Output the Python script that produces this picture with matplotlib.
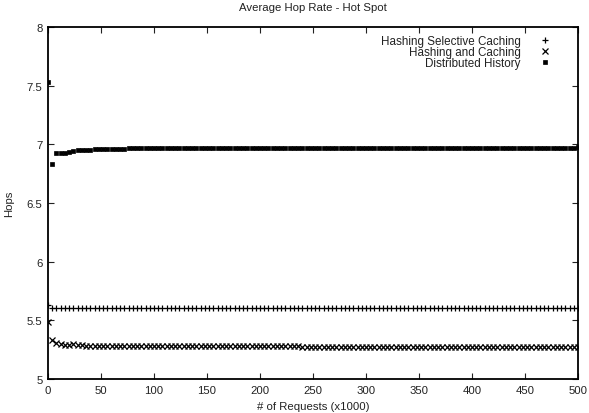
import numpy as np
import matplotlib
matplotlib.use("Agg")
import matplotlib.pyplot as plt

plt.rcParams['font.family'] = ['Liberation Sans', 'DejaVu Sans']

# x values: thousands of requests, one sample every 4000
requests = np.arange(0, 501, 4)

# Hashing Selective Caching (+)
hsc = [5.63, 5.607, 5.607, 5.607, 5.607, 5.607, 5.607, 5.607, 5.607, 5.607,
       5.607, 5.607, 5.607, 5.607, 5.607, 5.607, 5.607, 5.607, 5.607, 5.607,
       5.607, 5.607, 5.607, 5.607, 5.607, 5.607, 5.607, 5.607, 5.607, 5.607,
       5.607, 5.607, 5.607, 5.607, 5.607, 5.607, 5.607, 5.607, 5.607, 5.607,
       5.607, 5.607, 5.607, 5.607, 5.607, 5.607, 5.607, 5.607, 5.607, 5.607,
       5.606, 5.606, 5.606, 5.606, 5.606, 5.606, 5.606, 5.606, 5.606, 5.606,
       5.606, 5.606, 5.606, 5.606, 5.606, 5.606, 5.606, 5.606, 5.606, 5.606,
       5.606, 5.606, 5.606, 5.606, 5.606, 5.606, 5.606, 5.606, 5.606, 5.606,
       5.606, 5.606, 5.606, 5.606, 5.606, 5.606, 5.606, 5.606, 5.606, 5.606,
       5.606, 5.606, 5.606, 5.606, 5.606, 5.606, 5.606, 5.606, 5.606, 5.606,
       5.606, 5.606, 5.606, 5.606, 5.606, 5.606, 5.606, 5.606, 5.606, 5.606,
       5.606, 5.606, 5.606, 5.606, 5.606, 5.606, 5.606, 5.606, 5.606, 5.606,
       5.606, 5.606, 5.606, 5.606, 5.606, 5.606]

# Hashing and Caching (x)
hc = [5.49, 5.335, 5.31, 5.30, 5.29, 5.29, 5.295, 5.29, 5.29, 5.285,
      5.285, 5.285, 5.283, 5.28, 5.28, 5.28, 5.28, 5.28, 5.28, 5.28,
      5.28, 5.28, 5.28, 5.28, 5.28, 5.28, 5.28, 5.28, 5.28, 5.28,
      5.279, 5.279, 5.279, 5.279, 5.279, 5.279, 5.279, 5.279, 5.279, 5.279,
      5.278, 5.278, 5.278, 5.278, 5.278, 5.278, 5.278, 5.278, 5.278, 5.278,
      5.277, 5.277, 5.277, 5.277, 5.277, 5.277, 5.277, 5.277, 5.277, 5.277,
      5.276, 5.276, 5.276, 5.276, 5.276, 5.276, 5.276, 5.276, 5.276, 5.276,
      5.276, 5.276, 5.276, 5.276, 5.276, 5.276, 5.276, 5.276, 5.276, 5.276,
      5.275, 5.275, 5.275, 5.275, 5.275, 5.275, 5.275, 5.275, 5.275, 5.275,
      5.275, 5.275, 5.275, 5.275, 5.275, 5.275, 5.275, 5.275, 5.275, 5.275,
      5.274, 5.274, 5.274, 5.274, 5.274, 5.274, 5.274, 5.274, 5.274, 5.274,
      5.273, 5.273, 5.273, 5.273, 5.273, 5.273, 5.273, 5.273, 5.273, 5.273,
      5.273, 5.273, 5.273, 5.272, 5.272, 5.272]

# Distributed History (filled box)
dh = [7.53, 6.83, 6.925, 6.925, 6.93, 6.935, 6.945, 6.95, 6.955, 6.955,
      6.955, 6.957, 6.958, 6.96, 6.96, 6.96, 6.961, 6.962, 6.963, 6.965,
      6.966, 6.968, 6.969, 6.97, 6.97, 6.969, 6.968, 6.967, 6.966, 6.966,
      6.966, 6.966, 6.966, 6.966, 6.966, 6.966, 6.966, 6.966, 6.966, 6.966,
      6.966, 6.966, 6.966, 6.966, 6.966, 6.966, 6.966, 6.966, 6.966, 6.966,
      6.966, 6.966, 6.966, 6.966, 6.966, 6.966, 6.966, 6.966, 6.966, 6.966,
      6.967, 6.967, 6.967, 6.967, 6.967, 6.967, 6.967, 6.967, 6.967, 6.967,
      6.967, 6.967, 6.967, 6.967, 6.967, 6.967, 6.967, 6.967, 6.967, 6.967,
      6.968, 6.968, 6.968, 6.968, 6.968, 6.968, 6.968, 6.968, 6.968, 6.968,
      6.968, 6.968, 6.968, 6.968, 6.968, 6.968, 6.968, 6.968, 6.968, 6.968,
      6.969, 6.969, 6.969, 6.969, 6.969, 6.969, 6.969, 6.969, 6.969, 6.969,
      6.969, 6.969, 6.969, 6.969, 6.969, 6.969, 6.969, 6.969, 6.969, 6.969,
      6.969, 6.969, 6.969, 6.969, 6.969, 6.98]

fig = plt.figure(figsize=(5.89, 4.14), dpi=100)
ax = fig.add_axes([48 / 589, 1 - 380 / 414, 530 / 589, 352 / 414])

ax.plot(requests, hsc, linestyle='none', marker='+', color='black',
        markersize=5, markeredgewidth=0.9, label='Hashing Selective Caching')
ax.plot(requests, hc, linestyle='none', marker='x', color='black',
        markersize=3.8, markeredgewidth=0.9, label='Hashing and Caching')
ax.plot(requests, dh, linestyle='none', marker='s', color='black',
        markersize=3.3, markeredgewidth=0.5, label='Distributed History')

ax.set_xlim(0, 500)
ax.set_ylim(5, 8)
ax.set_xticks(np.arange(0, 501, 50))
ax.set_yticks(np.arange(5, 8.01, 0.5))
ax.set_yticklabels(['5', '5.5', '6', '6.5', '7', '7.5', '8'])
ax.tick_params(direction='in', length=4, width=0.8, top=True, right=True,
               labelsize=8.2, colors='#222222', pad=4)
for sp in ax.spines.values():
    sp.set_linewidth(1.3)

ax.set_title('Average Hop Rate - Hot Spot', fontsize=8.2, pad=12, color='#222222')
ax.set_xlabel('# of Requests (x1000)', fontsize=8.2, labelpad=5, color='#222222')
ax.set_ylabel('Hops', fontsize=8.2, labelpad=9, color='#222222')

leg = ax.legend(loc='upper right', bbox_to_anchor=(1 - 19 / 530, 1.0),
                markerfirst=False, frameon=False, fontsize=8.4,
                handlelength=1.0, handletextpad=1.6, labelspacing=-0.08,
                borderaxespad=0.3)
for t in leg.get_texts():
    t.set_color('#222222')

fig.savefig('out.png', dpi=100)
